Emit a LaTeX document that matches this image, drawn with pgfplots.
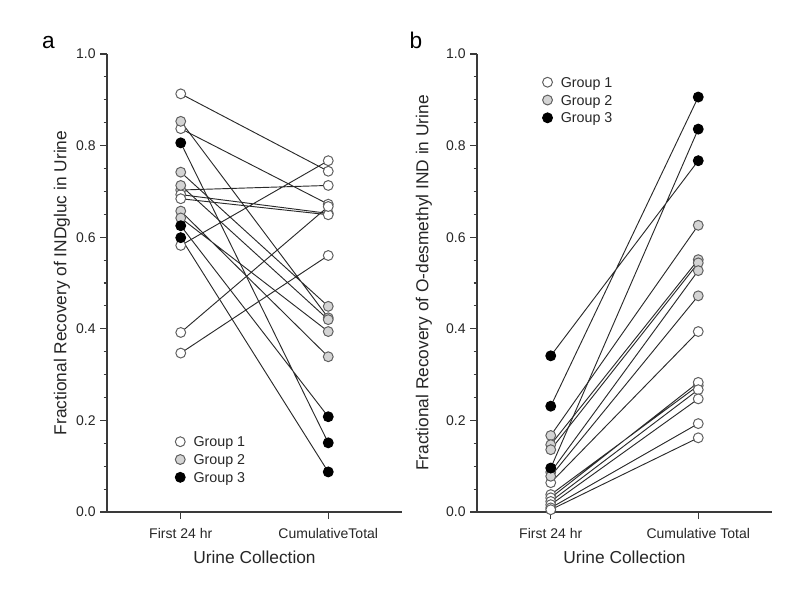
\documentclass[border=0pt]{standalone}
\usepackage{pgfplots}
\pgfplotsset{compat=1.18}
\usepackage{pgfplotstable}
\usepackage{fontspec}
\setmainfont{Liberation Sans}
\setsansfont{Liberation Sans}

\definecolor{axgray}{HTML}{3A3A3A}
\definecolor{lngray}{HTML}{2A2A2A}
\definecolor{mkedge}{HTML}{606060}
\definecolor{mkgray}{HTML}{D4D4D4}

% Panel a: INDgluc
\pgfplotstableread{
x y
1 0.913
2 0.744
1 nan
1 0.837
2 0.672
1 nan
1 0.703
2 0.713
1 nan
1 0.693
2 0.652
1 nan
1 0.684
2 0.649
1 nan
1 0.582
2 0.767
1 nan
1 0.392
2 0.667
1 nan
1 0.347
2 0.560
}\aGone
\pgfplotstableread{
x y
1 0.853
2 0.424
1 nan
1 0.742
2 0.449
1 nan
1 0.713
2 0.420
1 nan
1 0.657
2 0.339
1 nan
1 0.642
2 0.394
}\aGtwo
\pgfplotstableread{
x y
1 0.806
2 0.151
1 nan
1 0.625
2 0.208
1 nan
1 0.599
2 0.0875
}\aGthree

% Panel b: O-desmethyl IND
\pgfplotstableread{
x y
1 0.064
2 0.394
1 nan
1 0.038
2 0.276
1 nan
1 0.031
2 0.283
1 nan
1 0.023
2 0.267
1 nan
1 0.016
2 0.247
1 nan
1 0.009
2 0.193
1 nan
1 0.005
2 0.162
}\bGone
\pgfplotstableread{
x y
1 0.167
2 0.626
1 nan
1 0.147
2 0.551
1 nan
1 0.136
2 0.544
1 nan
1 0.087
2 0.527
1 nan
1 0.078
2 0.472
}\bGtwo
\pgfplotstableread{
x y
1 0.341
2 0.767
1 nan
1 0.231
2 0.906
1 nan
1 0.096
2 0.836
}\bGthree

\pgfplotsset{
  panel/.style={
    scale only axis, width=221.25pt, height=343.5pt,
    xmin=0.5, xmax=2.5, ymin=0, ymax=1,
    axis x line*=bottom, axis y line*=left,
    axis line style={axgray, line width=0.9pt},
    tick align=outside,
    xtick={1,2},
    ytick={0,0.2,0.4,0.6,0.8,1},
    minor y tick num=3,
    major tick length=5pt, minor tick length=2.6pt,
    every tick/.style={axgray, line width=0.8pt},
    tick label style={font=\fontsize{10.5}{12}\selectfont, text=black!85},
    xticklabel style={yshift=-3.5pt},
    /pgf/number format/assume math mode=true,
    yticklabel style={/pgf/number format/fixed, /pgf/number format/fixed zerofill, /pgf/number format/precision=1},
    label style={font=\fontsize{13}{15}\selectfont, text=black!85},
    xlabel={Urine Collection},
    xlabel style={at={(axis description cs:0.5,-0.098)}, anchor=center},
    clip=false,
    legend cell align=left,
    legend image code/.code={\draw[##1] plot coordinates {(0pt,0pt)};},
  },
  subj/.style={lngray, line width=0.7pt, unbounded coords=jump, mark=none},
  gone/.style={only marks, mark=*, mark size=3.7pt, mark options={fill=white, draw=mkedge, line width=0.75pt}},
  gtwo/.style={only marks, mark=*, mark size=3.7pt, mark options={fill=mkgray, draw=mkedge, line width=0.75pt}},
  gthree/.style={only marks, mark=*, mark size=3.7pt, mark options={fill=black, draw=black, line width=0.75pt}},
  leg/.style={draw=none, fill=none, inner sep=0pt, outer sep=0pt, column sep=6.3pt, row sep=0.95pt,
    font=\fontsize{10.7}{12}\selectfont, text=black!85,
    nodes={inner sep=0pt, text height=10pt, text depth=2.4pt}},
}

\begin{document}
\begin{tikzpicture}
\useasboundingbox (0,0) rectangle (600pt,444pt);

\begin{axis}[panel, at={(80.25pt,60pt)}, anchor=south west,
  xticklabels={First 24 hr, CumulativeTotal},
  ylabel={Fractional Recovery of INDgluc in Urine},
  ylabel style={at={(axis description cs:-0.1525,0.5)}, anchor=center},
  legend style={leg, at={(axis description cs:0.2316,0.1715)}, anchor=north west},
]
\addplot[subj, forget plot] table[x=x,y=y] {\aGone};
\addplot[subj, forget plot] table[x=x,y=y] {\aGtwo};
\addplot[subj, forget plot] table[x=x,y=y] {\aGthree};
\addplot[gone] table[x=x,y=y] {\aGone};
\addplot[gtwo] table[x=x,y=y] {\aGtwo};
\addplot[gthree] table[x=x,y=y] {\aGthree};
\legend{Group 1, Group 2, Group 3}
\end{axis}

\begin{axis}[panel, at={(357.75pt,60pt)}, anchor=south west,
  xticklabels={First 24 hr, Cumulative Total},
  ylabel={Fractional Recovery of O-desmethyl IND in Urine},
  ylabel style={at={(axis description cs:-0.18,0.5)}, anchor=center},
  legend style={leg, at={(axis description cs:0.2224,0.9564)}, anchor=north west},
]
\addplot[subj, forget plot] table[x=x,y=y] {\bGone};
\addplot[subj, forget plot] table[x=x,y=y] {\bGtwo};
\addplot[subj, forget plot] table[x=x,y=y] {\bGthree};
\addplot[gone] table[x=x,y=y] {\bGone};
\addplot[gtwo] table[x=x,y=y] {\bGtwo};
\addplot[gthree] table[x=x,y=y] {\bGthree};
\legend{Group 1, Group 2, Group 3}
\end{axis}

\node[anchor=base west, font=\fontsize{17}{20}\selectfont] at (28pt,407.25pt) {a};
\node[anchor=base west, font=\fontsize{17}{20}\selectfont] at (303.75pt,407.8pt) {b};
\end{tikzpicture}
\end{document}
